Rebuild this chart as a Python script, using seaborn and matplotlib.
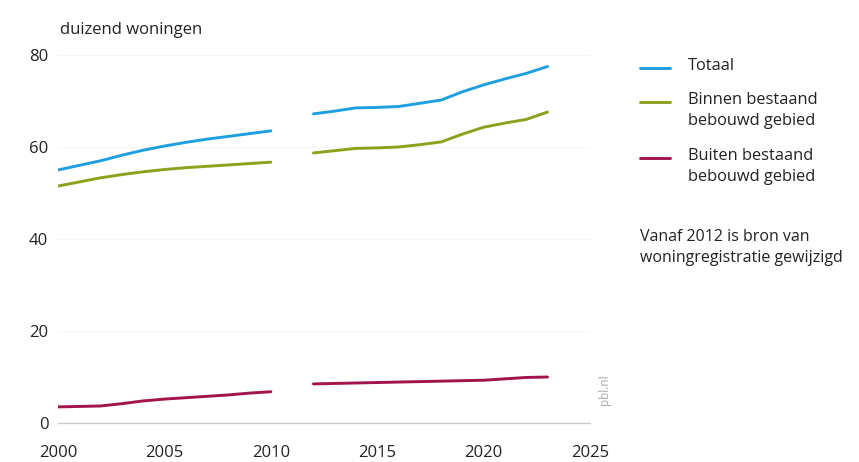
import pandas as pd
import seaborn as sns
import matplotlib.pyplot as plt
import numpy as np

# data (thousand dwellings), gap in 2011
years = [2000, 2001, 2002, 2003, 2004, 2005, 2006, 2007, 2008, 2009, 2010,
         2012, 2013, 2014, 2015, 2016, 2017, 2018, 2019, 2020, 2021, 2022, 2023]
totaal = [55.0, 56.0, 57.0, 58.2, 59.3, 60.2, 61.0, 61.7, 62.3, 62.9, 63.5,
          67.2, 67.8, 68.5, 68.6, 68.8, 69.5, 70.2, 72.0, 73.5, 74.8, 76.0, 77.5]
binnen = [51.5, 52.4, 53.3, 54.0, 54.6, 55.1, 55.5, 55.8, 56.1, 56.4, 56.7,
          58.7, 59.2, 59.7, 59.8, 60.0, 60.5, 61.1, 62.8, 64.3, 65.2, 66.0, 67.6]
buiten = [3.5, 3.6, 3.7, 4.2, 4.8, 5.2, 5.5, 5.8, 6.1, 6.5, 6.8,
          8.5, 8.6, 8.7, 8.8, 8.9, 9.0, 9.1, 9.2, 9.3, 9.6, 9.9, 10.0]
series_names = ["Totaal", "Binnen bestaand\nbebouwd gebied", "Buiten bestaand\nbebouwd gebied"]
colors = ["#1e9fe0", "#8ca21c", "#a3144a"]

rows = []
for name, vals in zip(series_names, [totaal, binnen, buiten]):
    for y, v in zip(years, vals):
        rows.append({"jaar": y, "waarde": v, "reeks": name,
                     "periode": "oud" if y <= 2010 else "nieuw"})
df = pd.DataFrame(rows)

sns.set_style("white")
plt.rcParams["font.family"] = ["Open Sans", "DejaVu Sans"]

fig = plt.figure(figsize=(8.59, 4.62), dpi=100)
ax = fig.add_axes([0.0675, 0.0844, 0.6195, 0.7966])

sns.lineplot(data=df, x="jaar", y="waarde", hue="reeks", units="periode",
             estimator=None, palette=dict(zip(series_names, colors)),
             linewidth=2.1, legend=False, ax=ax)

ax.set_xlim(2000, 2025)
ax.set_ylim(0, 80)
ax.set_xticks([2000, 2005, 2010, 2015, 2020, 2025])
ax.set_yticks([0, 20, 40, 60, 80])
ax.set_xlabel("")
ax.set_ylabel("")
ax.grid(axis="y", color="#f6f6f6", linewidth=0.8)
ax.set_axisbelow(True)
for s in ["top", "right", "left"]:
    ax.spines[s].set_visible(False)
ax.spines["bottom"].set_color("#c8c8c8")
ax.spines["bottom"].set_linewidth(0.9)
ax.tick_params(axis="x", direction="out", length=5, width=0.9, color="#c8c8c8",
               labelsize=12, pad=11, labelcolor="#222222")
ax.tick_params(axis="y", length=0, labelsize=12, pad=7, labelcolor="#222222")

fig.text(60 / 859, 1 - 30 / 462, "duizend woningen", fontsize=12,
         color="#222222", va="center", ha="left")

# legend drawn by hand
leg_y = [68, 102, 158]
for name, c, yy in zip(series_names, colors, leg_y):
    fig.add_artist(plt.Line2D([640 / 859, 670 / 859], [1 - yy / 462, 1 - yy / 462],
                              color=c, linewidth=2.1, transform=fig.transFigure))
    fig.text(688 / 859, 1 - (yy - 10) / 462, name, fontsize=11.8, color="#222222",
             va="top", ha="left", linespacing=1.4)

fig.text(640 / 859, 1 - 229 / 462, "Vanaf 2012 is bron van\nwoningregistratie gewijzigd",
         fontsize=11.5, color="#222222", va="top", ha="left", linespacing=1.45)

fig.text(605 / 859, 1 - 390 / 462, "pbl.nl", rotation=90, fontsize=8.5,
         color="#aaaaaa", va="center", ha="center")

plt.savefig("out.png", dpi=100)
